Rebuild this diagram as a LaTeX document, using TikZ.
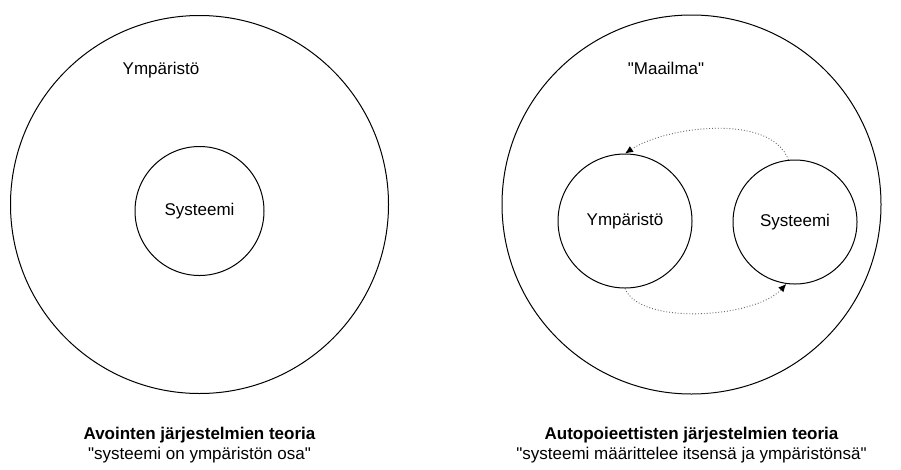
\documentclass[tikz,border=0pt]{standalone}
\usepackage{fontspec}
\setmainfont{Liberation Sans}[Ligatures=TeXOff]
\usetikzlibrary{arrows.meta}
\begin{document}
\begin{tikzpicture}[x=1pt,y=-1pt,
  ring/.style={draw=black,line width=1pt,circle,inner sep=0pt},
  lbl/.style={font=\fontsize{17}{20}\selectfont,inner sep=0pt},
  headline/.style={font=\fontsize{17}{20}\selectfont\bfseries,inner sep=0pt,anchor=base},
  subline/.style={font=\fontsize{17}{20}\selectfont,inner sep=0pt,anchor=base},
  loop/.style={draw=black!60,line width=0.9pt,dotted,-{Latex[length=8pt,width=7pt,color=black]}}]
  \fill[white] (0,0) rectangle (901,469);
  \useasboundingbox (0,0) rectangle (901,469);

  % open systems: the system is a part of its environment
  \node[ring,minimum size=378pt] (worldL) at (199.5,204.5) {};
  \node[lbl] (envL) at (161,70) {Ympäristö};
  \node[ring,minimum size=129pt,lbl] (sysL) at (199.5,211) {Systeemi};
  \node[headline] (headL) at (199.5,439) {Avointen järjestelmien teoria};
  \node[subline] (subL) at (199.5,459) {"systeemi on ympäristön osa"};

  % autopoietic systems: system and environment define each other
  \node[ring,minimum size=379pt] (worldR) at (691.5,204.5) {};
  \node[lbl] (maailma) at (666,68) {"Maailma"};
  \node[ring,minimum size=134pt,lbl] (envR) at (625,221) {Ympäristö};
  \node[ring,minimum size=124pt,lbl] (sysR) at (795,222) {Systeemi};
  \node[headline] (headR) at (691.5,439) {Autopoieettisten järjestelmien teoria};
  \node[subline] (subR) at (691.5,459) {"systeemi määrittelee itsensä ja ympäristönsä"};

  \draw[loop] (sysR.96) .. controls (770,112) and (665,127) .. (envR.90);
  \draw[loop] (envR.270) .. controls (640,326) and (755,318) .. (sysR.262);
\end{tikzpicture}
\end{document}
